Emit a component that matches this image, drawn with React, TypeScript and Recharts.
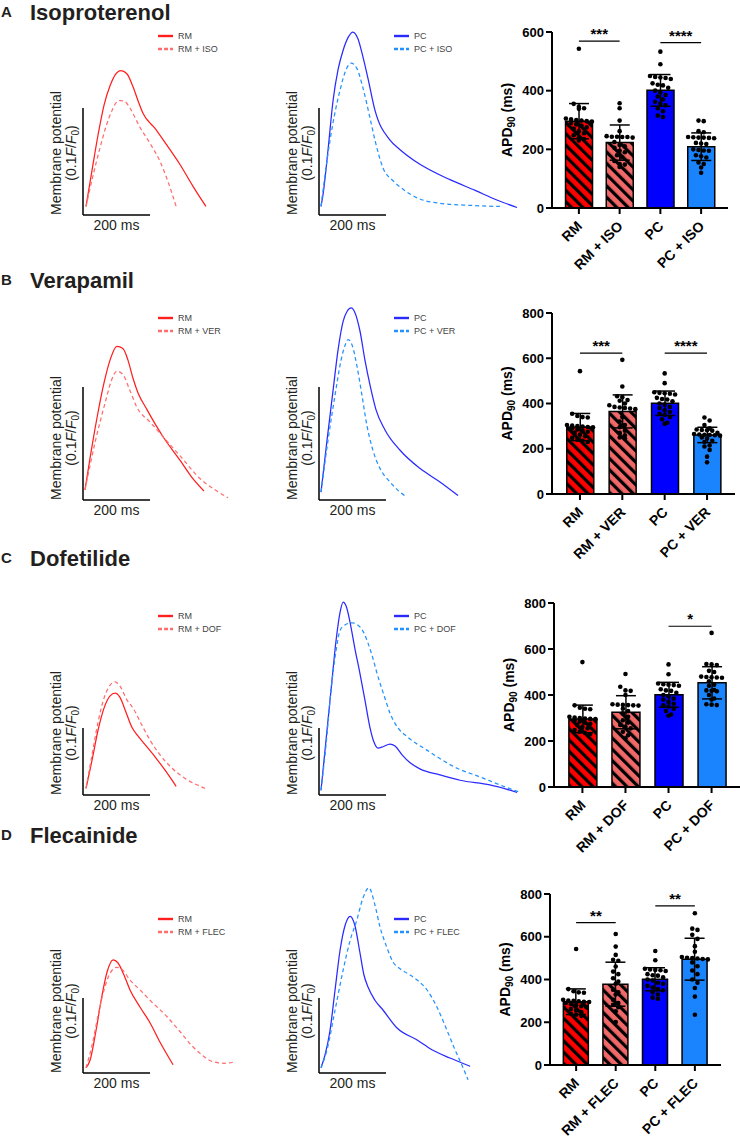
import React from 'react';
import {
  LineChart, Line, XAxis, YAxis, ReferenceLine, Legend,
  ComposedChart, Bar, Cell, ErrorBar, Scatter,
} from 'recharts';

const FONT = '"Liberation Sans", Arial, Helvetica, sans-serif';

// ---------------- Row titles ----------------
const ROW_LETTERS = ['A', 'B', 'C', 'D'];
const ROW_DRUGS = ['Isoproterenol', 'Verapamil', 'Dofetilide', 'Flecainide'];
const DRUG_ABBR = ['ISO', 'VER', 'DOF', 'FLEC'];

// ---------------- Optical AP traces: [time (ms), ΔF/F0] ----------------
const A_RM: [number, number][] = [[9,0.008],[27,0.042],[45,0.075],[63,0.103],[81,0.121],[96,0.131],[113,0.135],[131,0.132],[149,0.120],[164,0.107],[179,0.095],[215,0.081],[251,0.065],[290,0.047],[328,0.027],[367,0.008]];
const A_RM_DRUG: [number, number][] = [[9,0.008],[30,0.037],[51,0.063],[69,0.083],[87,0.098],[99,0.105],[110,0.107],[125,0.106],[140,0.100],[170,0.082],[200,0.067],[230,0.050],[254,0.031],[278,0.008]];
const A_PC: [number, number][] = [[6,0.008],[12,0.019],[27,0.061],[42,0.107],[57,0.136],[72,0.154],[87,0.166],[101,0.171],[116,0.165],[131,0.148],[146,0.128],[167,0.098],[212,0.070],[242,0.061],[293,0.049],[391,0.033],[466,0.023],[531,0.014],[591,0.007]];
const A_PC_DRUG: [number, number][] = [[6,0.008],[33,0.070],[63,0.117],[81,0.136],[96,0.142],[113,0.137],[131,0.119],[152,0.091],[167,0.070],[191,0.044],[221,0.032],[251,0.024],[293,0.016],[361,0.011],[451,0.009],[540,0.008]];

const B_RM: [number, number][] = [[6,0.009],[21,0.037],[42,0.073],[63,0.104],[81,0.124],[101,0.136],[119,0.134],[134,0.124],[149,0.108],[164,0.095],[191,0.080],[239,0.056],[290,0.035],[325,0.020],[361,0.008]];
const B_RM_DRUG: [number, number][] = [[6,0.009],[36,0.051],[66,0.086],[84,0.105],[101,0.114],[119,0.111],[140,0.097],[161,0.082],[200,0.069],[239,0.056],[290,0.039],[349,0.019],[394,0.009],[433,0.002]];
const B_PC: [number, number][] = [[6,0.007],[24,0.053],[42,0.097],[57,0.133],[72,0.158],[84,0.167],[96,0.170],[107,0.166],[122,0.150],[137,0.124],[152,0.102],[170,0.080],[197,0.062],[242,0.044],[301,0.028],[361,0.016],[415,0.004]];
const B_PC_DRUG: [number, number][] = [[6,0.007],[27,0.053],[48,0.093],[66,0.124],[78,0.137],[87,0.142],[99,0.137],[113,0.119],[128,0.093],[143,0.066],[161,0.044],[182,0.028],[212,0.016],[242,0.007],[260,0.003]];

const C_RM: [number, number][] = [[9,0.010],[27,0.052],[45,0.097],[63,0.130],[81,0.148],[96,0.152],[110,0.146],[128,0.124],[146,0.101],[161,0.090],[179,0.079],[215,0.057],[245,0.037],[278,0.013]];
const C_RM_DRUG: [number, number][] = [[9,0.010],[27,0.060],[45,0.109],[63,0.145],[81,0.164],[96,0.169],[110,0.163],[131,0.142],[149,0.130],[176,0.104],[200,0.082],[230,0.060],[266,0.040],[304,0.025],[364,0.010]];
const C_PC: [number, number][] = [[6,0.007],[21,0.082],[36,0.157],[51,0.231],[63,0.273],[72,0.288],[81,0.282],[93,0.257],[107,0.219],[122,0.182],[137,0.142],[152,0.101],[164,0.079],[176,0.070],[191,0.072],[212,0.076],[227,0.073],[248,0.060],[272,0.048],[301,0.039],[361,0.030],[421,0.022],[510,0.015],[591,0.004]];
const C_PC_DRUG: [number, number][] = [[6,0.007],[21,0.075],[36,0.157],[51,0.216],[63,0.246],[78,0.254],[99,0.257],[122,0.251],[134,0.242],[146,0.227],[161,0.204],[173,0.182],[194,0.149],[212,0.122],[236,0.100],[263,0.087],[322,0.067],[412,0.040],[481,0.027],[540,0.015],[600,0.004]];

const D_RM: [number, number][] = [[9,0.007],[21,0.017],[39,0.057],[57,0.104],[72,0.135],[90,0.151],[104,0.147],[122,0.131],[140,0.111],[170,0.088],[200,0.067],[230,0.041],[269,0.011]];
const D_RM_DRUG: [number, number][] = [[9,0.007],[27,0.037],[45,0.077],[63,0.111],[81,0.133],[101,0.141],[119,0.137],[140,0.124],[170,0.111],[200,0.097],[251,0.075],[290,0.055],[328,0.035],[358,0.023],[388,0.015],[424,0.013],[454,0.015]];
const D_PC: [number, number][] = [[6,0.007],[18,0.024],[33,0.057],[48,0.111],[63,0.164],[78,0.197],[93,0.209],[107,0.197],[122,0.161],[134,0.131],[146,0.115],[167,0.097],[191,0.084],[233,0.060],[293,0.044],[337,0.031],[391,0.020],[451,0.009]];
const D_PC_DRUG: [number, number][] = [[6,0.007],[24,0.031],[48,0.084],[72,0.137],[93,0.177],[113,0.204],[131,0.233],[149,0.247],[167,0.224],[182,0.195],[203,0.167],[221,0.148],[242,0.139],[263,0.133],[293,0.124],[322,0.111],[352,0.088],[382,0.057],[406,0.031],[430,0.007],[445,-0.009]];

const RM_TRACES = [A_RM, B_RM, C_RM, D_RM];
const RM_DRUG_TRACES = [A_RM_DRUG, B_RM_DRUG, C_RM_DRUG, D_RM_DRUG];
const PC_TRACES = [A_PC, B_PC, C_PC, D_PC];
const PC_DRUG_TRACES = [A_PC_DRUG, B_PC_DRUG, C_PC_DRUG, D_PC_DRUG];

const SCALE_MS = 200;
const SCALE_F = 0.1;

// ---------------- APD90 (ms) ----------------
const RM_POINTS = [543, 355, 345, 340, 338, 305, 302, 300, 298, 296, 295, 290, 285, 280, 275, 270, 262, 255, 248, 240, 235, 230];
const PC_POINTS = [533, 490, 450, 447, 445, 443, 440, 425, 420, 418, 410, 400, 395, 385, 380, 370, 362, 355, 350, 340, 330, 315, 310];
const ISO_RM_POINTS = [357, 340, 298, 262, 245, 243, 243, 242, 242, 240, 225, 215, 210, 205, 195, 190, 180, 172, 160, 150, 148, 140];
const ISO_PC_POINTS = [298, 296, 262, 258, 242, 241, 240, 240, 239, 238, 222, 220, 218, 200, 198, 196, 195, 180, 176, 172, 155, 150, 138, 120];
const VER_RM_POINTS = [593, 475, 432, 428, 415, 412, 400, 392, 385, 382, 380, 378, 375, 340, 320, 305, 295, 280, 270, 260, 250, 245];
const VER_PC_POINTS = [338, 325, 305, 290, 285, 283, 282, 280, 270, 265, 263, 262, 261, 260, 258, 250, 245, 235, 230, 215, 210, 195, 165, 140];
const DOF_RM_POINTS = [491, 436, 420, 418, 400, 360, 358, 357, 356, 355, 354, 340, 330, 320, 305, 290, 280, 270, 262, 255, 240, 225, 212];
const DOF_PC_POINTS = [670, 535, 533, 530, 505, 500, 480, 478, 477, 476, 475, 460, 445, 440, 422, 420, 418, 416, 400, 385, 380, 360, 358, 356];
const FLEC_RM_POINTS = [613, 554, 515, 492, 488, 461, 437, 425, 406, 390, 380, 352, 340, 330, 305, 290, 282, 270, 251, 201];
const FLEC_PC_POINTS = [710, 638, 632, 609, 590, 556, 530, 505, 502, 500, 498, 496, 494, 480, 462, 442, 425, 400, 385, 360, 320, 235];

const RM_MEAN = 296, RM_SD = 60, PC_MEAN = 401, PC_SD = 54;
const DRUG_RM_MEANS = [223, 365, 325, 378];
const DRUG_RM_SDS = [60, 73, 72, 103];
const DRUG_PC_MEANS = [209, 261, 453, 495];
const DRUG_PC_SDS = [47, 34, 70, 98];
const DRUG_RM_POINTS = [ISO_RM_POINTS, VER_RM_POINTS, DOF_RM_POINTS, FLEC_RM_POINTS];
const DRUG_PC_POINTS = [ISO_PC_POINTS, VER_PC_POINTS, DOF_PC_POINTS, FLEC_PC_POINTS];

const Y_MAX = [600, 800, 800, 800];
const Y_TICKS = [[0, 200, 400, 600], [0, 200, 400, 600, 800], [0, 200, 400, 600, 800], [0, 200, 400, 600, 800]];

// significance: [from category, to category, bracket height (ms), stars]
const SIG_A: [number, number, number, string][] = [[0, 1, 569, '***'], [2, 3, 564, '****']];
const SIG_B: [number, number, number, string][] = [[0, 1, 623, '***'], [2, 3, 623, '****']];
const SIG_C: [number, number, number, string][] = [[2, 3, 699, '*']];
const SIG_D: [number, number, number, string][] = [[0, 1, 666, '**'], [2, 3, 744, '**']];
const SIGS = [SIG_A, SIG_B, SIG_C, SIG_D];

// ---------------- Layout ----------------
const TITLE_BASE = [20, 288, 566, 843];
const TRACE_GEOM = [
  { plotTop: 22, barTop: 108, barBottom: 215, legendY: 36 },
  { plotTop: 300, barTop: 387, barBottom: 500, legendY: 318 },
  { plotTop: 585, barTop: 728, barBottom: 795, legendY: 616 },
  { plotTop: 865, barTop: 998, barBottom: 1073, legendY: 919 },
];
const LEFT_BAR_X = 83;
const MID_BAR_X = 319;
const PX_PER_MS = 67 / 200;
const BAR_GEOM = [
  { left: 552, top: 32, w: 176, h: 176, barSize: 27 },
  { left: 552, top: 313, w: 183, h: 181, barSize: 27 },
  { left: 554, top: 603, w: 186, h: 184, barSize: 28 },
  { left: 550, top: 894, w: 171, h: 171, barSize: 25 },
];
const X_MIN = -0.66, X_MAX = 3.66;

const COL_RM = '#ff1f1f';
const COL_RM_DRUG = '#ff6e6e';
const COL_PC = '#2a2aff';
const COL_PC_DRUG = '#2392ff';

type Trace = { name: string; data: [number, number][]; color: string; dashed: boolean };

const YScaleLabel = (props: any) => {
  const vb = props.viewBox || { x: 0, y: 0, height: 0 };
  const yA = vb.y, yB = vb.y + (vb.height || 0);
  const bottom = Math.max(yA, yB);
  const cy = bottom - 62;
  const x1 = vb.x - 22;
  const x2 = vb.x - 7;
  return (
    <g fontFamily={FONT} fontSize={14} fill="#231f20">
      <text x={x1} y={cy} textAnchor="middle" transform={`rotate(-90 ${x1} ${cy})`}>Membrane potential</text>
      <text x={x2} y={cy} textAnchor="middle" transform={`rotate(-90 ${x2} ${cy})`}>
        (0.1<tspan fontStyle="italic">F</tspan>/<tspan fontStyle="italic">F</tspan>
        <tspan fontSize={10} dy={3}>0</tspan><tspan dy={-3}>)</tspan>
      </text>
    </g>
  );
};

const TraceLegend = ({ traces }: { traces: Trace[] }) => (
  <div style={{ fontFamily: FONT, fontSize: 9, color: '#444', lineHeight: '13px' }}>
    {traces.map((tr) => (
      <div key={tr.name} style={{ display: 'flex', alignItems: 'center', height: 13, whiteSpace: 'nowrap' }}>
        <svg width={15} height={4} style={{ marginRight: 5, display: 'block' }}>
          <line x1={0} y1={2} x2={15} y2={2} stroke={tr.color} strokeWidth={2.4}
            strokeDasharray={tr.dashed ? '4 2' : undefined} />
        </svg>
        <span>{tr.name}</span>
      </div>
    ))}
  </div>
);

function TracePanel({ barX, geom, traces }: { barX: number; geom: typeof TRACE_GEOM[number]; traces: Trace[] }) {
  const mL = 45, mB = 28, padL = 5, padB = 12;
  const plotW = barX === LEFT_BAR_X ? 165 : 215;
  const plotH = geom.barBottom + padB - geom.plotTop;
  const pxPerUnit = (geom.barBottom - geom.barTop) / SCALE_F;
  const xDomain: [number, number] = [-padL / PX_PER_MS, (plotW - padL) / PX_PER_MS];
  const yDomain: [number, number] = [-padB / pxPerUnit, (plotH - padB) / pxPerUnit];
  const W = mL + plotW;
  const H = plotH + mB;
  const divLeft = barX - padL - mL;
  return (
    <div style={{ position: 'absolute', left: divLeft, top: geom.plotTop, width: W, height: H }}>
      <LineChart width={W} height={H} margin={{ top: 0, right: 0, bottom: mB, left: mL }}>
        <XAxis type="number" dataKey="t" domain={xDomain} hide allowDataOverflow />
        <YAxis type="number" domain={yDomain} hide allowDataOverflow />
        {traces.map((tr) => (
          <Line key={tr.name} name={tr.name} data={tr.data.map(([t, v]) => ({ t, v }))} dataKey="v"
            type="monotone" stroke={tr.color} strokeWidth={1.25}
            strokeDasharray={tr.dashed ? '4 3' : undefined}
            dot={false} activeDot={false} isAnimationActive={false} />
        ))}
        <ReferenceLine segment={[{ x: 0, y: 0 }, { x: SCALE_MS, y: 0 }]} stroke="#000" strokeWidth={1.5}
          label={{ value: `${SCALE_MS} ms`, position: 'bottom', offset: 5, fill: '#231f20', fontSize: 14, fontFamily: FONT }} />
        <ReferenceLine segment={[{ x: 0, y: 0 }, { x: 0, y: SCALE_F }]} stroke="#000" strokeWidth={1.5}
          label={<YScaleLabel />} />
        <Legend layout="horizontal" verticalAlign="middle" align="center"
          wrapperStyle={{ left: barX + 75 - divLeft, top: geom.legendY - 6.5 - geom.plotTop, width: 120, height: 26 }}
          content={() => <TraceLegend traces={traces} />} />
      </LineChart>
    </div>
  );
}

function swarm(values: number[], cat: number, valPerPx: number, catPerPx: number) {
  const sorted = [...values].sort((a, b) => b - a);
  const rows: number[][] = [];
  for (const v of sorted) {
    const row = rows[rows.length - 1];
    if (row && row[0] - v <= 4.5 * valPerPx && row.length < 6) row.push(v);
    else rows.push([v]);
  }
  const out: { i: number; v: number }[] = [];
  for (const row of rows) {
    row.forEach((v, j) => out.push({ i: cat + (j - (row.length - 1) / 2) * 5.2 * catPerPx, v }));
  }
  return out;
}

const XTick = (props: any) => {
  const { x, y, payload } = props;
  return (
    <g transform={`translate(${x + 4},${y + 11}) rotate(-45)`}>
      <text x={0} y={0} textAnchor="end" fontFamily={FONT} fontSize={14} fontWeight={700} fill="#000">
        {payload.value}
      </text>
    </g>
  );
};

const ApdLabel = (props: any) => {
  const vb = props.viewBox || { x: 0, y: 0, height: 0 };
  const cx = vb.x + 15;
  const cy = vb.y + vb.height / 2;
  return (
    <text x={cx} y={cy} transform={`rotate(-90 ${cx} ${cy})`} textAnchor="middle"
      fontFamily={FONT} fontSize={14} fontWeight={700} fill="#000">
      APD<tspan fontSize={10} dy={3}>90</tspan><tspan dy={-3}> (ms)</tspan>
    </text>
  );
};

const Dot = (props: any) => <circle cx={props.cx} cy={props.cy} r={2.3} fill="#000" />;

function ApdChart({ row }: { row: number }) {
  const g = BAR_GEOM[row];
  const mT = 15, mR = 12, mL = 5, yW = 55, xH = 78;
  const W = mL + yW + g.w + mR;
  const H = mT + g.h + xH;
  const abbr = DRUG_ABBR[row];
  const labels = ['RM', `RM + ${abbr}`, 'PC', `PC + ${abbr}`];
  const means = [RM_MEAN, DRUG_RM_MEANS[row], PC_MEAN, DRUG_PC_MEANS[row]];
  const sds = [RM_SD, DRUG_RM_SDS[row], PC_SD, DRUG_PC_SDS[row]];
  const groups = [RM_POINTS, DRUG_RM_POINTS[row], PC_POINTS, DRUG_PC_POINTS[row]];
  const data = labels.map((l, i) => ({ i, name: l, mean: means[i], sd: sds[i] }));
  const catPerPx = (X_MAX - X_MIN) / g.w;
  const valPerPx = Y_MAX[row] / g.h;
  const pts = groups.flatMap((vals, i) => swarm(vals, i, valPerPx, catPerPx));
  const catPad = g.w * (0.5 - 2 / (X_MAX - X_MIN));
  const id = `p${row}`;
  const fills = [`url(#${id}-rm)`, `url(#${id}-rmd)`, '#0000ff', '#1a84ff'];
  return (
    <div style={{ position: 'absolute', left: g.left - mL - yW, top: g.top - mT, width: W, height: H }}>
      <ComposedChart width={W} height={H} data={data} margin={{ top: mT, right: mR, bottom: 0, left: mL }}>
        <defs>
          <pattern id={`${id}-rm`} patternUnits="userSpaceOnUse" width={8} height={8} patternTransform="rotate(-45)">
            <rect width={8} height={8} fill="#ff0000" />
            <rect width={3.2} height={8} fill="#000" />
          </pattern>
          <pattern id={`${id}-rmd`} patternUnits="userSpaceOnUse" width={8} height={8} patternTransform="rotate(-45)">
            <rect width={8} height={8} fill="#f06868" />
            <rect width={3.2} height={8} fill="#000" />
          </pattern>
        </defs>
        <XAxis xAxisId="cat" type="category" dataKey="name" padding={{ left: catPad, right: catPad }}
          interval={0} height={xH} tickSize={6}
          axisLine={{ stroke: '#000', strokeWidth: 2 }} tickLine={{ stroke: '#000', strokeWidth: 2 }}
          tick={<XTick />} />
        <XAxis xAxisId="num" type="number" dataKey="i" domain={[X_MIN, X_MAX]} hide allowDataOverflow />
        <YAxis type="number" domain={[0, Y_MAX[row]]} ticks={Y_TICKS[row]} interval={0} allowDataOverflow
          width={yW} tickSize={6}
          axisLine={{ stroke: '#000', strokeWidth: 2 }} tickLine={{ stroke: '#000', strokeWidth: 2 }}
          tick={{ fill: '#000', fontSize: 13, fontWeight: 700, fontFamily: FONT }}
          label={<ApdLabel />} />
        <Bar xAxisId="cat" dataKey="mean" barSize={g.barSize} stroke="#000" strokeWidth={1.5} isAnimationActive={false}>
          {data.map((d, i) => <Cell key={d.name} fill={fills[i]} />)}
          <ErrorBar dataKey="sd" width={10} stroke="#000" strokeWidth={1.5} direction="y" />
        </Bar>
        <Scatter xAxisId="num" data={pts} dataKey="v" shape={<Dot />} isAnimationActive={false} />
        {SIGS[row].map(([a, b, y, s]) => (
          <ReferenceLine key={`${a}-${b}`} xAxisId="num" segment={[{ x: a, y }, { x: b, y }]} stroke="#000" strokeWidth={1.2}
            label={{ value: s, position: 'top', offset: 2, fill: '#000', fontSize: 15, fontWeight: 700, fontFamily: FONT }} />
        ))}
      </ComposedChart>
    </div>
  );
}

export default function App() {
  return (
    <div style={{ position: 'absolute', left: 0, top: 0, width: 740, height: 1143, overflow: 'hidden', background: '#fff' }}>
      <svg width={740} height={1143} style={{ position: 'absolute', left: 0, top: 0 }}>
        {ROW_LETTERS.map((l, r) => (
          <g key={l} fontFamily={FONT} fontWeight={700} fill="#231f20">
            <text x={1} y={TITLE_BASE[r] - 3} fontSize={15}>{l}</text>
            <text x={30} y={TITLE_BASE[r]} fontSize={22}>{ROW_DRUGS[r]}</text>
          </g>
        ))}
      </svg>
      {ROW_LETTERS.map((l, r) => (
        <React.Fragment key={l}>
          <TracePanel barX={LEFT_BAR_X} geom={TRACE_GEOM[r]} traces={[
            { name: 'RM', data: RM_TRACES[r], color: COL_RM, dashed: false },
            { name: `RM + ${DRUG_ABBR[r]}`, data: RM_DRUG_TRACES[r], color: COL_RM_DRUG, dashed: true },
          ]} />
          <TracePanel barX={MID_BAR_X} geom={TRACE_GEOM[r]} traces={[
            { name: 'PC', data: PC_TRACES[r], color: COL_PC, dashed: false },
            { name: `PC + ${DRUG_ABBR[r]}`, data: PC_DRUG_TRACES[r], color: COL_PC_DRUG, dashed: true },
          ]} />
          <ApdChart row={r} />
        </React.Fragment>
      ))}
    </div>
  );
}
